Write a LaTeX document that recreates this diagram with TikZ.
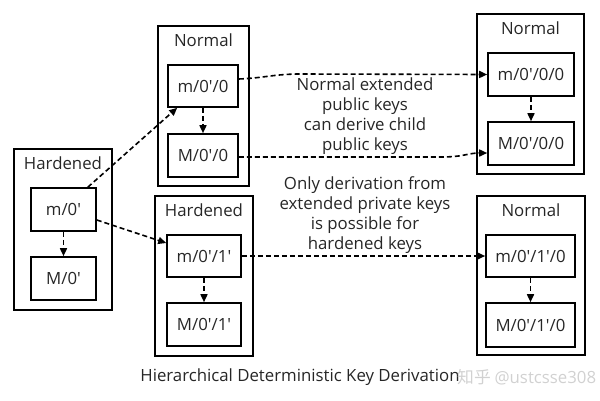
\documentclass[tikz,border=0pt]{standalone}
\usepackage{fontspec}
\setmainfont{Open Sans}[Ligatures=TeXOff]
\newfontfamily\cjkfont{Noto Sans CJK SC}
\usetikzlibrary{arrows.meta}
\newcommand{\ap}{\char"0027\relax}
\begin{document}
\begin{tikzpicture}[x=1pt,y=-1pt,
  font=\fontsize{16.8}{20}\selectfont,
  outerbox/.style={draw,line width=1.6pt,inner sep=0pt,minimum width=#1},
  keybox/.style={draw,line width=1.6pt,inner sep=0pt,minimum height=43pt,minimum width=#1},
  grouplabel/.style={inner sep=0pt,text=black!85},
  keytext/.style={text=black!85},
  edge/.style={dashed,dash pattern=on 5pt off 3pt,line width=1.6pt,-{Triangle[length=8pt,width=7pt]}},
  note/.style={align=center,inner sep=0pt,text=black!85}]
\useasboundingbox (0,0) rectangle (600,400);
% outer group boxes
\node[outerbox=98pt,minimum height=161pt] (gL) at (63,229.5) {};
\node[outerbox=91pt,minimum height=160pt] (gT) at (203.5,106) {};
\node[outerbox=98pt,minimum height=160pt] (gM) at (204,276) {};
\node[outerbox=107pt,minimum height=160pt] (gR1) at (530.5,94) {};
\node[outerbox=108pt,minimum height=159pt] (gR2) at (531,275.5) {};
% group labels
\node[grouplabel] (lL) at (63,163) {Hardened};
\node[grouplabel] (lT) at (203.5,40) {Normal};
\node[grouplabel] (lM) at (204,210) {Hardened};
\node[grouplabel] (lR1) at (530.5,28) {Normal};
\node[grouplabel] (lR2) at (531,210) {Normal};
% key boxes
\node[keybox=65pt,keytext] (m0) at (63.5,209.5) {m/0\ap};
\node[keybox=65pt,keytext] (M0) at (63.5,278.5) {M/0\ap};
\node[keybox=70pt,minimum height=42pt,keytext] (m00) at (203,86) {m/0\ap/0};
\node[keybox=70pt,keytext] (M00) at (203,155.5) {M/0\ap/0};
\node[keybox=74pt,minimum height=42pt,keytext] (m01) at (204,256) {m/0\ap/1\ap};
\node[keybox=74pt,keytext] (M01) at (204,324.5) {M/0\ap/1\ap};
\node[keybox=86pt,keytext] (m000) at (531,74.5) {m/0\ap/0/0};
\node[keybox=86pt,keytext] (M000) at (531,143.5) {M/0\ap/0/0};
\node[keybox=89pt,minimum height=42pt,keytext] (m010) at (530.5,256) {m/0\ap/1\ap/0};
\node[keybox=89pt,minimum height=44pt,keytext] (M010) at (530.5,325) {M/0\ap/1\ap/0};
% notes
\node[note] (n1) at (365,116) {Normal extended\\public keys\\can derive child\\public keys};
\node[note] (n2) at (365,215) {Only derivation from\\extended private keys\\is possible for\\hardened keys};
\node[inner sep=0pt,text=black!85] (cap) at (300,377) {Hierarchical Deterministic Key Derivation};
\node[inner sep=0pt,text=black!18,anchor=west] (wm) at (457,377) {\cjkfont 知乎\ \normalfont @ustcsse308};
% connectors
\coordinate (c1) at (300,74);
\coordinate (c2) at (440,157);
\draw[edge] (m0) -- (M0);
\draw[edge] (m00) -- (M00);
\draw[edge] (m01) -- (M01);
\draw[edge] (m000) -- (M000);
\draw[edge] (m010) -- (M010);
\draw[edge] ([xshift=-9pt]m0.north east) -- ([xshift=10pt]m00.south west);
\draw[edge] ([yshift=-10.5pt]m0.east) -- ([yshift=13pt]m01.west);
\draw[edge] ([yshift=7pt]m00.east) .. controls +(25,-1) and +(-25,0) .. (c1) -- (m000.west);
\draw[edge] ([yshift=-1.5pt]M00.east) -- (c2) .. controls +(25,0) and +(-20,0) .. ([yshift=-9.5pt]M000.west);
\draw[edge] (m01.east) -- (m010.west);
\end{tikzpicture}
\end{document}
